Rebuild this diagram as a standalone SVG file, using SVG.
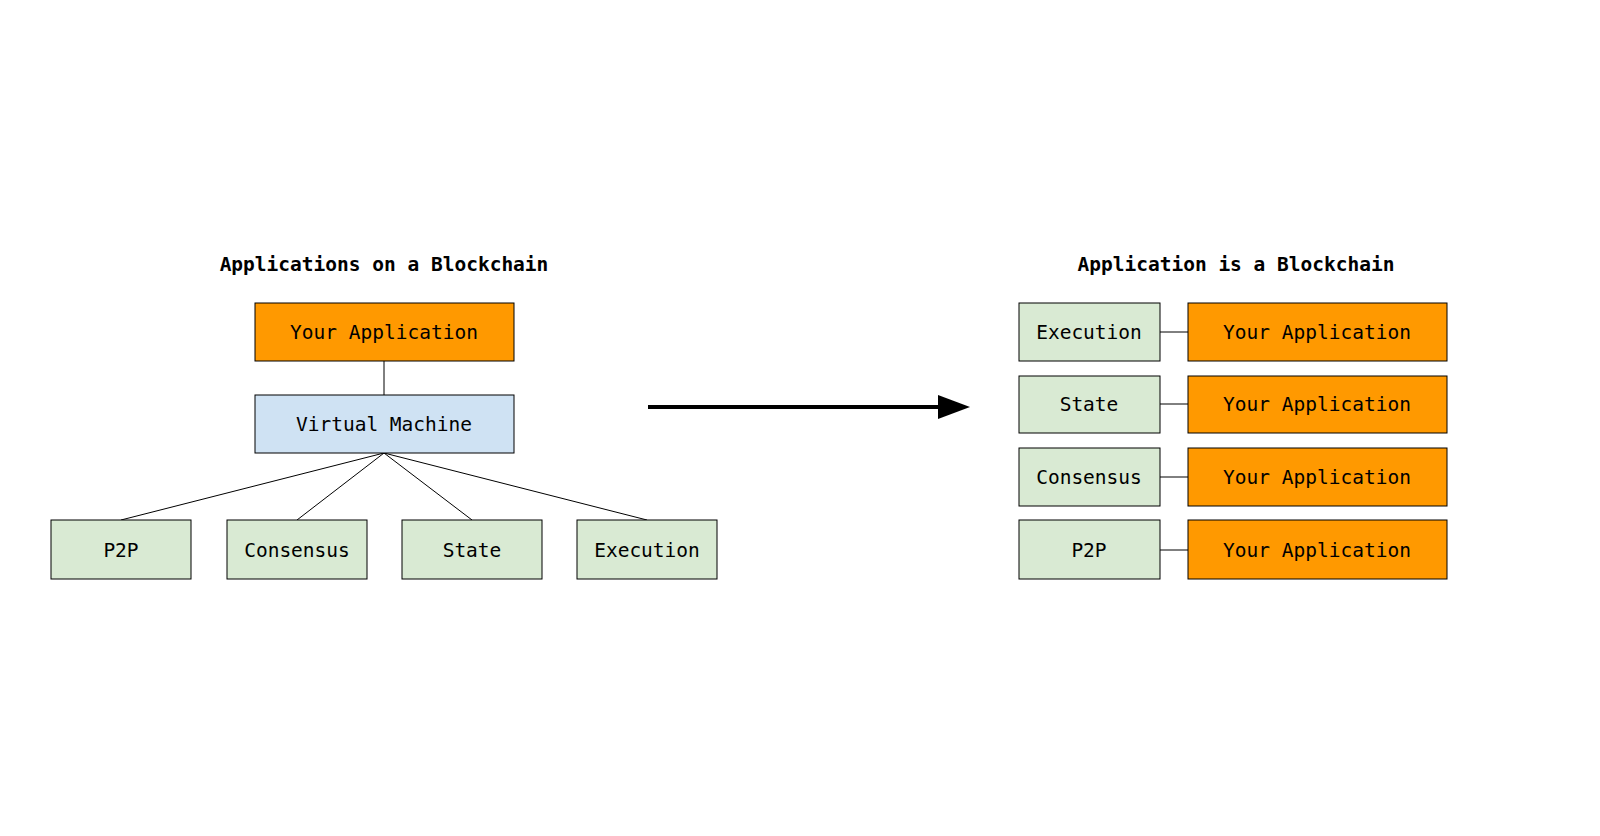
<svg xmlns="http://www.w3.org/2000/svg" width="1600" height="836" viewBox="0 0 1600 836">
<style>
text{font-family:"DejaVu Sans Mono","Liberation Mono",monospace;font-size:19.5px;text-anchor:middle;dominant-baseline:central;fill:#000}
.t{font-weight:bold}
.n{stroke:#000;stroke-width:1}
.o{fill:#FF9900}.g{fill:#D9EAD3}.b{fill:#CFE2F3}
.c line{stroke:#000;stroke-width:1}
</style>
<defs><marker id="ah" markerWidth="8" markerHeight="6" refX="0" refY="3" orient="auto" markerUnits="strokeWidth"><path d="M0,0L8,3L0,6z" fill="#000"/></marker></defs>
<rect width="1600" height="836" fill="#fff"/>
<text class="t" x="384" y="264">Applications on a Blockchain</text>
<text class="t" x="1236" y="264">Application is a Blockchain</text>
<g class="c">
<line x1="384" y1="361" x2="384" y2="395"/>
<line x1="384" y1="453" x2="121" y2="520"/>
<line x1="384" y1="453" x2="297" y2="520"/>
<line x1="384" y1="453" x2="472" y2="520"/>
<line x1="384" y1="453" x2="647" y2="520"/>
<line x1="1160" y1="332" x2="1188" y2="332"/>
<line x1="1160" y1="404" x2="1188" y2="404"/>
<line x1="1160" y1="477" x2="1188" y2="477"/>
<line x1="1160" y1="550" x2="1188" y2="550"/>
<line x1="648" y1="407" x2="938" y2="407" style="stroke-width:4" marker-end="url(#ah)"/>
</g>
<g id="app"><rect class="n o" x="255" y="303" width="259" height="58"/><text x="384" y="332">Your Application</text></g>
<g id="vm"><rect class="n b" x="255" y="395" width="259" height="58"/><text x="384" y="424">Virtual Machine</text></g>
<g id="p2p"><rect class="n g" x="51" y="520" width="140" height="59"/><text x="121" y="550">P2P</text></g>
<g id="cons"><rect class="n g" x="227" y="520" width="140" height="59"/><text x="297" y="550">Consensus</text></g>
<g id="state"><rect class="n g" x="402" y="520" width="140" height="59"/><text x="472" y="550">State</text></g>
<g id="exec"><rect class="n g" x="577" y="520" width="140" height="59"/><text x="647" y="550">Execution</text></g>
<g id="r1"><rect class="n g" x="1019" y="303" width="141" height="58"/><text x="1089" y="332">Execution</text></g>
<g id="r1a"><rect class="n o" x="1188" y="303" width="259" height="58"/><text x="1317" y="332">Your Application</text></g>
<g id="r2"><rect class="n g" x="1019" y="376" width="141" height="57"/><text x="1089" y="404">State</text></g>
<g id="r2a"><rect class="n o" x="1188" y="376" width="259" height="57"/><text x="1317" y="404">Your Application</text></g>
<g id="r3"><rect class="n g" x="1019" y="448" width="141" height="58"/><text x="1089" y="477">Consensus</text></g>
<g id="r3a"><rect class="n o" x="1188" y="448" width="259" height="58"/><text x="1317" y="477">Your Application</text></g>
<g id="r4"><rect class="n g" x="1019" y="520" width="141" height="59"/><text x="1089" y="550">P2P</text></g>
<g id="r4a"><rect class="n o" x="1188" y="520" width="259" height="59"/><text x="1317" y="550">Your Application</text></g>
</svg>
